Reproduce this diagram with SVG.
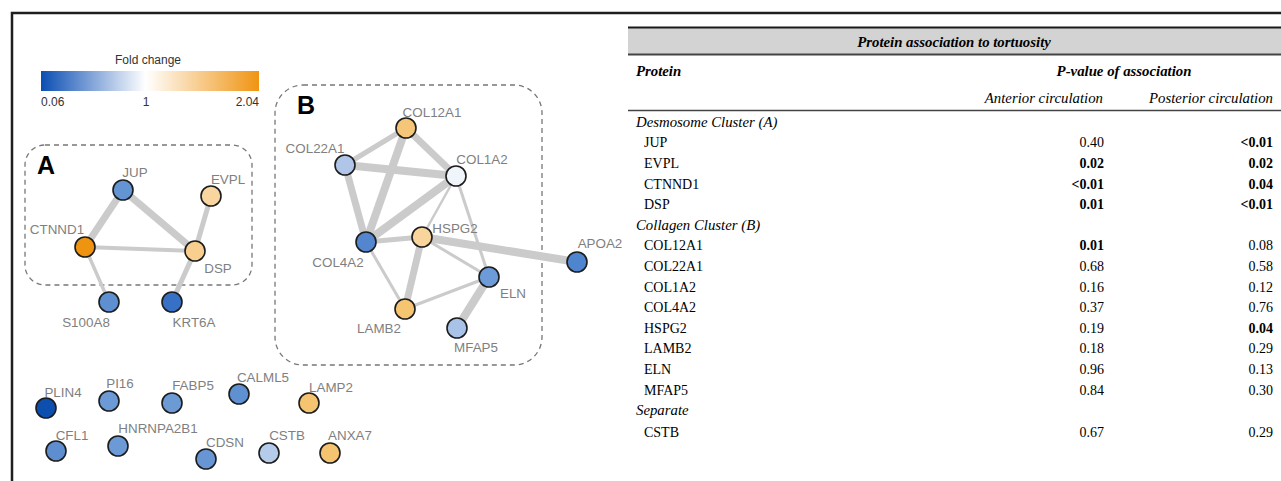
<svg xmlns="http://www.w3.org/2000/svg" width="1281" height="481" viewBox="0 0 1281 481">
<defs>
<linearGradient id="fc" x1="0" y1="0" x2="1" y2="0">
<stop offset="0" stop-color="#0b4eb3"/>
<stop offset="0.48" stop-color="#ffffff"/>
<stop offset="1" stop-color="#f09412"/>
</linearGradient>
<style>
.nl{font-family:"Liberation Sans",Arial,sans-serif;font-size:13.4px;fill:#7f7f7f;text-anchor:middle}
.cl{font-family:"Liberation Sans",Arial,sans-serif;font-size:25px;font-weight:bold;fill:#000}
.nd{stroke:#1c1c1c;stroke-width:1.6}
.e{stroke:#cbcbcb;stroke-linecap:butt;fill:none}
.box{fill:none;stroke:#777;stroke-width:1.3;stroke-dasharray:5 4}
.t{font-family:"Liberation Serif","Times New Roman",serif;font-size:14px;fill:#000}
.ti{font-style:italic;font-size:14.8px}
.tb{font-weight:bold}
.r{text-anchor:end}
.m{text-anchor:middle}
.lg{font-family:"Liberation Sans",Arial,sans-serif;font-size:12px;fill:#333}
</style>
</defs>
<rect x="0" y="0" width="1281" height="481" fill="#fff"/>
<!-- frame -->
<path d="M12 481 V13 H1281" fill="none" stroke="#1e1e1e" stroke-width="2.5"/>

<!-- legend -->
<g id="legend">
<text class="lg" x="148" y="64" text-anchor="middle">Fold change</text>
<rect x="41" y="71" width="218" height="20" fill="url(#fc)"/>
<text class="lg" x="41" y="106">0.06</text>
<text class="lg" x="146" y="106" text-anchor="middle">1</text>
<text class="lg" x="259" y="106" text-anchor="end">2.04</text>
</g>

<!-- cluster boxes -->
<g id="clusterA">
<rect class="box" x="25" y="145" width="227" height="140" rx="20"/>
<text class="cl" x="37" y="174">A</text>
</g>
<g id="clusterB">
<rect class="box" x="275" y="85" width="267" height="280" rx="28"/>
<text class="cl" x="297" y="114">B</text>
</g>

<!-- connectors -->
<g id="edges">
<line class="e" x1="123" y1="190" x2="85" y2="247" stroke-width="7"/>
<line class="e" x1="123" y1="190" x2="195" y2="251" stroke-width="7"/>
<line class="e" x1="85" y1="247" x2="195" y2="251" stroke-width="4"/>
<line class="e" x1="211" y1="196" x2="195" y2="251" stroke-width="5"/>
<line class="e" x1="85" y1="247" x2="109" y2="302" stroke-width="3.5"/>
<line class="e" x1="195" y1="251" x2="172" y2="302" stroke-width="5"/>

<line class="e" x1="406" y1="128" x2="345" y2="165" stroke-width="5"/>
<line class="e" x1="406" y1="128" x2="456" y2="176" stroke-width="7"/>
<line class="e" x1="406" y1="128" x2="366" y2="242" stroke-width="8"/>
<line class="e" x1="345" y1="165" x2="456" y2="176" stroke-width="8"/>
<line class="e" x1="345" y1="165" x2="366" y2="242" stroke-width="7"/>
<line class="e" x1="456" y1="176" x2="366" y2="242" stroke-width="8"/>
<line class="e" x1="456" y1="176" x2="422" y2="237" stroke-width="2.5"/>
<line class="e" x1="456" y1="176" x2="489" y2="277" stroke-width="3"/>
<line class="e" x1="366" y1="242" x2="422" y2="237" stroke-width="5"/>
<line class="e" x1="366" y1="242" x2="405" y2="309" stroke-width="3"/>
<line class="e" x1="422" y1="237" x2="405" y2="309" stroke-width="7"/>
<line class="e" x1="422" y1="237" x2="489" y2="277" stroke-width="3"/>
<line class="e" x1="422" y1="237" x2="577" y2="262" stroke-width="8"/>
<line class="e" x1="405" y1="309" x2="489" y2="277" stroke-width="3"/>
<line class="e" x1="489" y1="277" x2="457" y2="328" stroke-width="8"/>
</g>

<!-- cluster A nodes -->
<g id="JUP"><circle class="nd" cx="123" cy="190" r="10" fill="#6495d3"/><text class="nl" x="135" y="177">JUP</text></g>
<g id="EVPL"><circle class="nd" cx="211" cy="196" r="10" fill="#f9d6a0"/><text class="nl" x="228" y="184">EVPL</text></g>
<g id="CTNND1"><circle class="nd" cx="85" cy="247" r="10" fill="#ef9411"/><text class="nl" x="57" y="234">CTNND1</text></g>
<g id="DSP"><circle class="nd" cx="195" cy="251" r="10" fill="#f8cf8f"/><text class="nl" x="218" y="273">DSP</text></g>
<g id="S100A8"><circle class="nd" cx="109" cy="302" r="10" fill="#5e90d1"/><text class="nl" x="86" y="327">S100A8</text></g>
<g id="KRT6A"><circle class="nd" cx="172" cy="302" r="10" fill="#3771c6"/><text class="nl" x="194" y="327">KRT6A</text></g>

<!-- cluster B nodes -->
<g id="COL12A1"><circle class="nd" cx="406" cy="128" r="10" fill="#f5c677"/><text class="nl" x="432" y="117">COL12A1</text></g>
<g id="COL22A1"><circle class="nd" cx="345" cy="165" r="10" fill="#afc6e9"/><text class="nl" x="315" y="153">COL22A1</text></g>
<g id="COL1A2"><circle class="nd" cx="456" cy="176" r="10" fill="#f0f4fb"/><text class="nl" x="482" y="164">COL1A2</text></g>
<g id="HSPG2"><circle class="nd" cx="422" cy="237" r="10" fill="#f9d49b"/><text class="nl" x="455" y="233">HSPG2</text></g>
<g id="COL4A2"><circle class="nd" cx="366" cy="242" r="10" fill="#5386cf"/><text class="nl" x="338" y="267">COL4A2</text></g>
<g id="APOA2"><circle class="nd" cx="577" cy="262" r="10" fill="#4f84ce"/><text class="nl" x="600" y="248">APOA2</text></g>
<g id="ELN"><circle class="nd" cx="489" cy="277" r="10" fill="#6d9bd7"/><text class="nl" x="513" y="298">ELN</text></g>
<g id="LAMB2"><circle class="nd" cx="405" cy="309" r="10" fill="#f6c572"/><text class="nl" x="379" y="333">LAMB2</text></g>
<g id="MFAP5"><circle class="nd" cx="457" cy="328" r="10" fill="#a9c2e8"/><text class="nl" x="476" y="352">MFAP5</text></g>

<!-- isolated nodes -->
<g id="PLIN4"><circle class="nd" cx="46" cy="408" r="10" fill="#0d4faf"/><text class="nl" x="63" y="397">PLIN4</text></g>
<g id="PI16"><circle class="nd" cx="109" cy="401" r="10" fill="#6b9ad6"/><text class="nl" x="120" y="388">PI16</text></g>
<g id="FABP5"><circle class="nd" cx="172" cy="403" r="10" fill="#6b9ad5"/><text class="nl" x="193" y="390">FABP5</text></g>
<g id="CALML5"><circle class="nd" cx="239" cy="394" r="10" fill="#5e90d2"/><text class="nl" x="263" y="382">CALML5</text></g>
<g id="LAMP2"><circle class="nd" cx="309" cy="403" r="10" fill="#f5c470"/><text class="nl" x="331" y="392">LAMP2</text></g>
<g id="CFL1"><circle class="nd" cx="56" cy="451" r="10" fill="#5f8ed0"/><text class="nl" x="72" y="440">CFL1</text></g>
<g id="HNRNPA2B1"><circle class="nd" cx="118" cy="446" r="10" fill="#6b9ad6"/><text class="nl" x="158" y="433">HNRNPA2B1</text></g>
<g id="CDSN"><circle class="nd" cx="206" cy="459" r="10" fill="#6896d4"/><text class="nl" x="225" y="447">CDSN</text></g>
<g id="CSTB"><circle class="nd" cx="269" cy="453" r="10" fill="#b4cbea"/><text class="nl" x="287" y="440">CSTB</text></g>
<g id="ANXA7"><circle class="nd" cx="330" cy="453" r="10" fill="#f5c470"/><text class="nl" x="350" y="440">ANXA7</text></g>

<!-- table -->
<g id="table">
<rect x="628" y="28" width="653" height="26" fill="#d3d3d3"/>
<line x1="628" y1="27.5" x2="1281" y2="27.5" stroke="#1a1a1a" stroke-width="2"/>
<line x1="628" y1="54.5" x2="1281" y2="54.5" stroke="#444" stroke-width="2"/>
<line x1="628" y1="110.5" x2="1281" y2="110.5" stroke="#444" stroke-width="1.5"/>
<text class="t ti tb m" x="954" y="47">Protein association to tortuosity</text>
<text class="t ti tb" x="636" y="76">Protein</text>
<text class="t ti tb m" x="1124" y="76">P-value of association</text>
<text class="t ti r" x="1103" y="103">Anterior circulation</text>
<text class="t ti r" x="1273" y="103">Posterior circulation</text>

<text class="t ti" x="636" y="127">Desmosome Cluster (A)</text>
<text class="t" x="644" y="147">JUP</text><text class="t r" x="1104" y="147">0.40</text><text class="t r tb" x="1273" y="147">&lt;0.01</text>
<text class="t" x="644" y="168">EVPL</text><text class="t r tb" x="1104" y="168">0.02</text><text class="t r tb" x="1273" y="168">0.02</text>
<text class="t" x="644" y="189">CTNND1</text><text class="t r tb" x="1104" y="189">&lt;0.01</text><text class="t r tb" x="1273" y="189">0.04</text>
<text class="t" x="644" y="209">DSP</text><text class="t r tb" x="1104" y="209">0.01</text><text class="t r tb" x="1273" y="209">&lt;0.01</text>
<text class="t ti" x="636" y="230">Collagen Cluster (B)</text>
<text class="t" x="644" y="250">COL12A1</text><text class="t r tb" x="1104" y="250">0.01</text><text class="t r" x="1273" y="250">0.08</text>
<text class="t" x="644" y="271">COL22A1</text><text class="t r" x="1104" y="271">0.68</text><text class="t r" x="1273" y="271">0.58</text>
<text class="t" x="644" y="292">COL1A2</text><text class="t r" x="1104" y="292">0.16</text><text class="t r" x="1273" y="292">0.12</text>
<text class="t" x="644" y="312">COL4A2</text><text class="t r" x="1104" y="312">0.37</text><text class="t r" x="1273" y="312">0.76</text>
<text class="t" x="644" y="333">HSPG2</text><text class="t r" x="1104" y="333">0.19</text><text class="t r tb" x="1273" y="333">0.04</text>
<text class="t" x="644" y="353">LAMB2</text><text class="t r" x="1104" y="353">0.18</text><text class="t r" x="1273" y="353">0.29</text>
<text class="t" x="644" y="374">ELN</text><text class="t r" x="1104" y="374">0.96</text><text class="t r" x="1273" y="374">0.13</text>
<text class="t" x="644" y="395">MFAP5</text><text class="t r" x="1104" y="395">0.84</text><text class="t r" x="1273" y="395">0.30</text>
<text class="t ti" x="636" y="415">Separate</text>
<text class="t" x="644" y="437">CSTB</text><text class="t r" x="1104" y="437">0.67</text><text class="t r" x="1273" y="437">0.29</text>
</g>
</svg>
